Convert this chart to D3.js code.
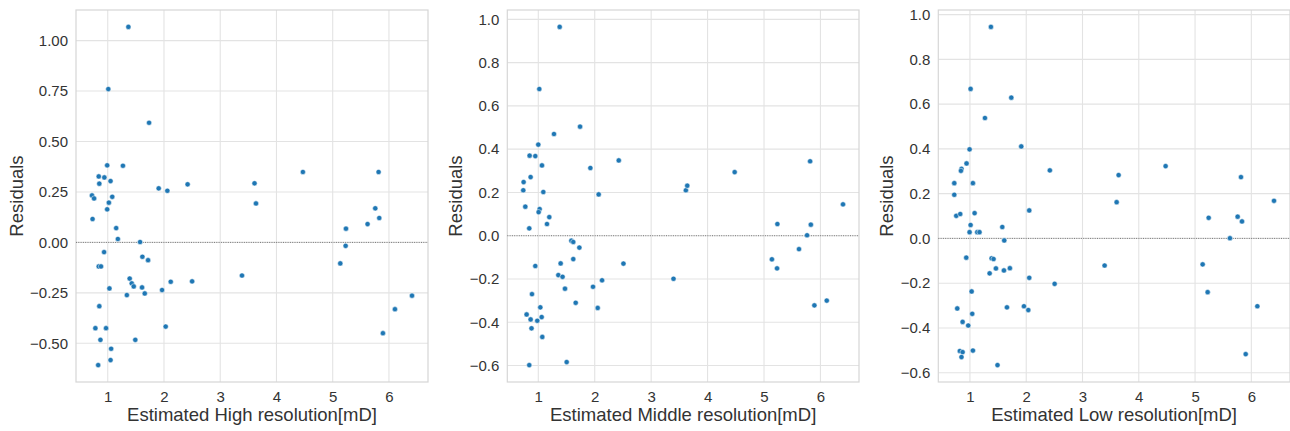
<!DOCTYPE html>
<html>
<head>
<meta charset="utf-8">
<script src="https://cdn.jsdelivr.net/npm/d3@7"></script>
<style>
  html, body { margin: 0; padding: 0; background: #fff; }
  svg { display: block; }
  text { font-family: "Liberation Sans", Arial, sans-serif; fill: #333; }
</style>
</head>
<body>
<svg id="chart" width="1290" height="431"></svg>
<script>
// Residuals vs. estimated permeability for the three resolutions

const highX = [1.367, 1.01, 1.735, 0.99, 1.27, 0.84, 0.94, 0.85, 1.05, 0.72,
  0.757, 1.02, 1.08, 0.99, 0.73, 1.15, 1.18, 1.575, 0.935, 0.84,
  0.88, 1.03, 0.85, 0.78, 0.97, 0.87, 1.06, 1.05, 0.83, 1.616,
  1.717, 1.39, 1.427, 1.462, 1.34, 1.61, 1.658, 1.49, 1.966, 2.12,
  2.5, 2.03, 1.906, 2.06, 2.42, 3.387, 3.61, 3.636, 4.47, 5.816,
  5.757, 5.828, 5.62, 5.236, 5.23, 5.135, 6.41, 6.107, 5.893];
const highResid = [1.068, 0.760, 0.593, 0.382, 0.380, 0.327, 0.322, 0.291, 0.304, 0.233,
  0.218, 0.197, 0.226, 0.164, 0.116, 0.071, 0.017, 0.002, -0.048, -0.119,
  -0.119, -0.228, -0.316, -0.425, -0.425, -0.483, -0.527, -0.583, -0.608, -0.071,
  -0.088, -0.179, -0.203, -0.218, -0.261, -0.223, -0.253, -0.483, -0.236, -0.195,
  -0.193, -0.417, 0.268, 0.256, 0.288, -0.164, 0.293, 0.193, 0.349, 0.349,
  0.169, 0.121, 0.091, 0.068, -0.017, -0.104, -0.264, -0.331, -0.450];

const middleX = [1.379, 1.018, 1.74, 1.278, 1.0, 0.846, 0.947, 1.065, 0.864, 0.74,
  0.734, 1.089, 0.77, 1.024, 1.006, 1.195, 1.154, 0.84, 1.586, 1.62,
  1.728, 1.62, 1.396, 0.947, 1.355, 1.43, 1.473, 0.888, 1.663, 1.036,
  0.793, 0.864, 0.982, 1.06, 0.88, 1.071, 0.84, 1.503, 1.923, 2.07,
  1.97, 2.13, 2.053, 2.426, 2.509, 3.396, 3.615, 3.64, 4.48, 5.817,
  6.40, 5.237, 5.83, 5.763, 5.62, 5.14, 5.231, 6.112, 5.893];
const middleResid = [0.965, 0.678, 0.504, 0.470, 0.421, 0.370, 0.368, 0.325, 0.271, 0.248,
  0.210, 0.202, 0.134, 0.123, 0.109, 0.086, 0.054, 0.034, -0.023, -0.029,
  -0.055, -0.108, -0.128, -0.140, -0.182, -0.190, -0.245, -0.270, -0.310, -0.331,
  -0.364, -0.387, -0.393, -0.376, -0.428, -0.468, -0.598, -0.584, 0.313, 0.191,
  -0.236, -0.206, -0.334, 0.348, -0.129, -0.199, 0.210, 0.231, 0.294, 0.344,
  0.145, 0.054, 0.051, 0.002, -0.062, -0.109, -0.151, -0.300, -0.322];

const lowX = [1.373, 1.012, 1.735, 1.267, 1.912, 0.994, 0.94, 0.85, 0.84, 0.722,
  1.053, 0.722, 2.42, 0.757, 0.828, 1.083, 1.012, 0.994, 1.13, 1.17,
  1.575, 1.61, 0.935, 1.385, 1.42, 1.462, 1.35, 1.604, 1.71, 2.054,
  2.505, 1.03, 0.775, 1.658, 1.96, 2.037, 1.041, 0.87, 0.97, 0.82,
  0.87, 0.85, 1.053, 1.49, 2.054, 3.393, 3.642, 3.607, 4.477, 5.816,
  6.403, 5.242, 5.757, 5.834, 5.62, 5.135, 5.224, 6.107, 5.9];
const lowResid = [0.945, 0.668, 0.629, 0.538, 0.411, 0.398, 0.335, 0.311, 0.302, 0.247,
  0.247, 0.195, 0.304, 0.101, 0.109, 0.113, 0.060, 0.028, 0.028, 0.028,
  0.051, -0.009, -0.086, -0.089, -0.092, -0.134, -0.156, -0.143, -0.133, -0.176,
  -0.203, -0.237, -0.313, -0.308, -0.303, -0.320, -0.337, -0.373, -0.389, -0.503,
  -0.508, -0.530, -0.501, -0.566, 0.125, -0.121, 0.283, 0.162, 0.323, 0.274,
  0.168, 0.092, 0.097, 0.076, 0.001, -0.116, -0.240, -0.303, -0.517];

const xTicks = [1, 2, 3, 4, 5, 6];
const highTicks = [-0.50, -0.25, 0.00, 0.25, 0.50, 0.75, 1.00];
const middleTicks = [-0.6, -0.4, -0.2, 0.0, 0.2, 0.4, 0.6, 0.8, 1.0];
const lowTicks = [-0.6, -0.4, -0.2, 0.0, 0.2, 0.4, 0.6, 0.8, 1.0];

const panels = [
  { label: "Estimated High resolution[mD]", xs: highX, ys: highResid, ticks: highTicks, digits: 2, left: 76, right: 428 },
  { label: "Estimated Middle resolution[mD]", xs: middleX, ys: middleResid, ticks: middleTicks, digits: 1, left: 507.3, right: 859 },
  { label: "Estimated Low resolution[mD]", xs: lowX, ys: lowResid, ticks: lowTicks, digits: 1, left: 938.3, right: 1290 }
];

const svg = d3.select("#chart");
const plotTop = 10, plotBottom = 382;
const gridColor = "#e3e3e3";
const frameColor = "#d6d6d6";
const dotColor = "#1f77b4";

// pad an extent by 5% on each side
function padded(vals) {
  const [lo, hi] = d3.extent(vals);
  const m = (hi - lo) * 0.05;
  return [lo - m, hi + m];
}

const fmtMinus = s => s.replace("-", "\u2212");

panels.forEach(p => {
  const x = d3.scaleLinear().domain(padded(p.xs)).range([p.left, p.right]);
  const y = d3.scaleLinear().domain(padded(p.ys)).range([plotBottom, plotTop]);
  const g = svg.append("g");

  // grid
  g.append("g").selectAll("line").data(xTicks).join("line")
    .attr("x1", d => x(d)).attr("x2", d => x(d))
    .attr("y1", plotTop).attr("y2", plotBottom)
    .attr("stroke", gridColor).attr("stroke-width", 1.1);
  g.append("g").selectAll("line").data(p.ticks).join("line")
    .attr("x1", p.left).attr("x2", p.right)
    .attr("y1", d => y(d)).attr("y2", d => y(d))
    .attr("stroke", gridColor).attr("stroke-width", 1.1);

  // frame
  g.append("rect")
    .attr("x", p.left).attr("y", plotTop)
    .attr("width", p.right - p.left).attr("height", plotBottom - plotTop)
    .attr("fill", "none").attr("stroke", frameColor).attr("stroke-width", 1.2);

  // x axis
  const xa = g.append("g").attr("transform", `translate(0,${plotBottom})`)
    .call(d3.axisBottom(x).tickValues(xTicks).tickSize(0).tickPadding(9).tickFormat(d3.format("d")));
  xa.select(".domain").remove();
  xa.selectAll("text").attr("font-size", 15).attr("fill", "#333");

  // y axis
  const ya = g.append("g").attr("transform", `translate(${p.left},0)`)
    .call(d3.axisLeft(y).tickValues(p.ticks).tickSize(0).tickPadding(8)
      .tickFormat(d => fmtMinus(d3.format(`.${p.digits}f`)(d))));
  ya.select(".domain").remove();
  ya.selectAll("text").attr("font-size", 15).attr("fill", "#333");

  let maxW = 0;
  ya.selectAll("text").each(function () { maxW = Math.max(maxW, this.getBBox().width); });

  // zero reference
  g.append("line")
    .attr("x1", p.left).attr("x2", p.right)
    .attr("y1", y(0)).attr("y2", y(0))
    .attr("stroke", "#777").attr("stroke-width", 1)
    .attr("stroke-dasharray", "1,1.3");

  // residual points
  g.append("g").selectAll("circle").data(d3.zip(p.xs, p.ys)).join("circle")
    .attr("cx", d => x(d[0])).attr("cy", d => y(d[1]))
    .attr("r", 2.6)
    .attr("fill", dotColor)
    .attr("stroke", "#fff").attr("stroke-width", 0.5);

  // axis titles
  g.append("text")
    .attr("x", (p.left + Math.min(p.right, 1290)) / 2).attr("y", 421)
    .attr("text-anchor", "middle").attr("font-size", 18.5)
    .text(p.label);
  const ly = (plotTop + plotBottom) / 2;
  const lx = p.left - 8 - maxW - 14;
  g.append("text")
    .attr("transform", `translate(${lx},${ly}) rotate(-90)`)
    .attr("text-anchor", "middle").attr("dy", "0.35em").attr("font-size", 18.5)
    .text("Residuals");
});
</script>
</body>
</html>
